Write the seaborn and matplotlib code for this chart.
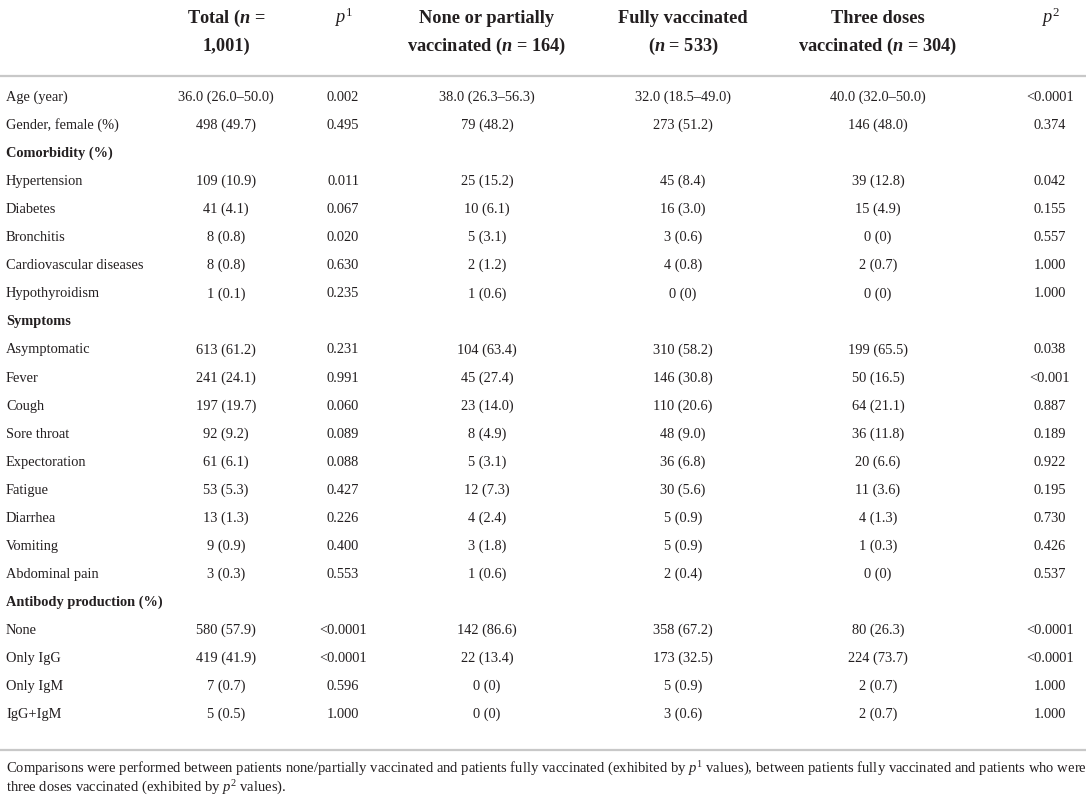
import matplotlib
matplotlib.use("Agg")
import matplotlib.pyplot as plt
import seaborn as sns

# ---------------- data ----------------
row_labels = [
    "Age (year)", "Gender, female (%)", "Comorbidity (%)", "Hypertension", "Diabetes",
    "Bronchitis", "Cardiovascular diseases", "Hypothyroidism", "Symptoms", "Asymptomatic",
    "Fever", "Cough", "Sore throat", "Expectoration", "Fatigue", "Diarrhea", "Vomiting",
    "Abdominal pain", "Antibody production (%)", "None", "Only IgG", "Only IgM", "IgG+IgM",
]
section_rows = ["Comorbidity (%)", "Symptoms", "Antibody production (%)"]

total = ["36.0 (26.0–50.0)", "498 (49.7)", "", "109 (10.9)", "41 (4.1)", "8 (0.8)", "8 (0.8)",
         "1 (0.1)", "", "613 (61.2)", "241 (24.1)", "197 (19.7)", "92 (9.2)", "61 (6.1)",
         "53 (5.3)", "13 (1.3)", "9 (0.9)", "3 (0.3)", "", "580 (57.9)", "419 (41.9)",
         "7 (0.7)", "5 (0.5)"]
p1 = ["0.002", "0.495", "", "0.011", "0.067", "0.020", "0.630", "0.235", "", "0.231", "0.991",
      "0.060", "0.089", "0.088", "0.427", "0.226", "0.400", "0.553", "", "<0.0001", "<0.0001",
      "0.596", "1.000"]
none_partial = ["38.0 (26.3–56.3)", "79 (48.2)", "", "25 (15.2)", "10 (6.1)", "5 (3.1)",
                "2 (1.2)", "1 (0.6)", "", "104 (63.4)", "45 (27.4)", "23 (14.0)", "8 (4.9)",
                "5 (3.1)", "12 (7.3)", "4 (2.4)", "3 (1.8)", "1 (0.6)", "", "142 (86.6)",
                "22 (13.4)", "0 (0)", "0 (0)"]
fully = ["32.0 (18.5–49.0)", "273 (51.2)", "", "45 (8.4)", "16 (3.0)", "3 (0.6)", "4 (0.8)",
         "0 (0)", "", "310 (58.2)", "146 (30.8)", "110 (20.6)", "48 (9.0)", "36 (6.8)",
         "30 (5.6)", "5 (0.9)", "5 (0.9)", "2 (0.4)", "", "358 (67.2)", "173 (32.5)",
         "5 (0.9)", "3 (0.6)"]
three = ["40.0 (32.0–50.0)", "146 (48.0)", "", "39 (12.8)", "15 (4.9)", "0 (0)", "2 (0.7)",
         "0 (0)", "", "199 (65.5)", "50 (16.5)", "64 (21.1)", "36 (11.8)", "20 (6.6)",
         "11 (3.6)", "4 (1.3)", "1 (0.3)", "0 (0)", "", "80 (26.3)", "224 (73.7)",
         "2 (0.7)", "2 (0.7)"]
p2 = ["<0.0001", "0.374", "", "0.042", "0.155", "0.557", "1.000", "1.000", "", "0.038",
      "<0.001", "0.887", "0.189", "0.922", "0.195", "0.730", "0.426", "0.537", "",
      "<0.0001", "<0.0001", "1.000", "1.000"]

headers = [
    ("Total ($\\mathbfit{n}$ =", "1,001)"),
    ("$\\mathit{p}^{1}$", ""),
    ("None or partially", "vaccinated ($\\mathbfit{n}$ = 164)"),
    ("Fully vaccinated", "($\\mathbfit{n}$ = 533)"),
    ("Three doses", "vaccinated ($\\mathbfit{n}$ = 304)"),
    ("$\\mathit{p}^{2}$", ""),
]
footnote = [
    "Comparisons were performed between patients none/partially vaccinated and patients fully "
    "vaccinated (exhibited by $\\mathit{p}^{1}$ values), between patients fully vaccinated and "
    "patients who were",
    "three doses vaccinated (exhibited by $\\mathit{p}^{2}$ values).",
]

# ---------------- style ----------------
sns.set_theme(style="white")
plt.rcParams["font.family"] = ["Liberation Serif", "DejaVu Serif"]
plt.rcParams["mathtext.fontset"] = "custom"
plt.rcParams["mathtext.rm"] = "Liberation Serif"
plt.rcParams["mathtext.it"] = "Liberation Serif:italic"
plt.rcParams["mathtext.bf"] = "Liberation Serif:bold"
plt.rcParams["mathtext.bfit"] = "Liberation Serif:italic:bold"

W, H = 1089, 799
fig = plt.figure(figsize=(W / 100, H / 100), dpi=100)
ax = fig.add_axes([0, 0, 1, 1])
ax.set_xlim(0, W)
ax.set_ylim(H, 0)
ax.axis("off")
sns.despine(ax=ax, left=True, bottom=True)

col_x = [226, 343, 487, 683, 878, 1050]
columns = [total, p1, none_partial, fully, three, p2]
txt_color = "#231f20"
body_fs = 10.4
head_fs = 13.2

# headers (baseline aligned)
for (l1, l2), x in zip(headers, col_x):
    ax.text(x, 23, l1, ha="center", va="baseline", fontsize=head_fs, fontweight="bold",
            color=txt_color)
    if l2:
        ax.text(x, 51, l2, ha="center", va="baseline", fontsize=head_fs, fontweight="bold",
                color=txt_color)

line_color = "#c8c8c8"
ax.plot([0, 1086], [76, 76], color=line_color, lw=1.6, solid_capstyle="butt")
ax.plot([0, 1086], [750, 750], color=line_color, lw=1.6, solid_capstyle="butt")

y0, dy = 101, 28.05
for i, lab in enumerate(row_labels):
    y = y0 + i * dy
    bold = lab in section_rows
    ax.text(6, y, lab, ha="left", va="baseline", fontsize=body_fs,
            fontweight="bold" if bold else "normal", color=txt_color)
    for col, x in zip(columns, col_x):
        if col[i]:
            ax.text(x, y, col[i], ha="center", va="baseline", fontsize=body_fs,
                    color=txt_color)

for j, line in enumerate(footnote):
    ax.text(6, 773 + j * 19, line, ha="left", va="baseline", fontsize=10.55, color=txt_color)

fig.savefig("out.png", dpi=100)
